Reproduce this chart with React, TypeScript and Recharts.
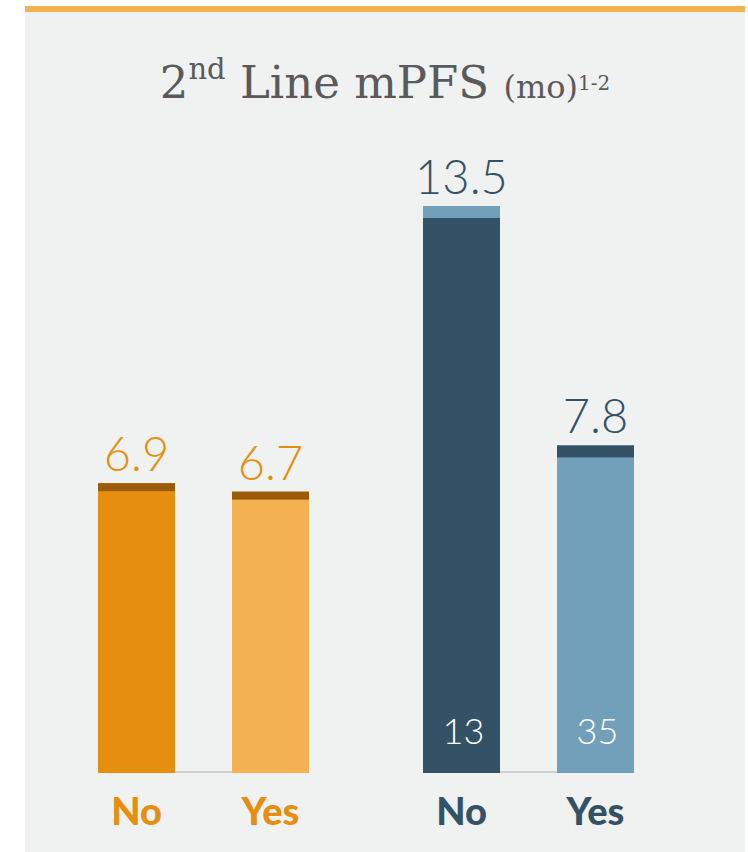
import React from "react";
import { BarChart, Bar, XAxis, YAxis, LabelList } from "recharts";

// Median PFS (months) per group, split by answer
const groups = ["Group 1", "Group 2"];
const answerLabels = ["No", "Yes"];
const noValues = [6.9, 13.5];
const yesValues = [6.7, 7.8];
// patient counts printed inside the bars (none for the first group)
const noCounts: (number | null)[] = [null, 13];
const yesCounts: (number | null)[] = [null, 35];
const valueDomain = [0, 15];

const data = groups.map((group, i) => ({
  group,
  no: noValues[i],
  yes: yesValues[i],
  noN: noCounts[i],
  yesN: yesCounts[i],
}));

const W = 748;
const H = 852;
const BAR_SIZE = 77;
const BAR_GAP = 57;

const palette = {
  page: "#ffffff",
  panel: "#f0f1f1",
  accent: "#f5b24f",
  title: "#5a5a5a",
  baseline: "#cfcfcf",
};

const groupStyles = [
  {
    label: "#e68e0f",
    capHeight: 8,
    no: { fill: "#e68e0f", cap: "#9b5c09" },
    yes: { fill: "#f4b152", cap: "#9b5c09" },
  },
  {
    label: "#345266",
    capHeight: 12,
    no: { fill: "#345266", cap: "#729fba" },
    yes: { fill: "#729fba", cap: "#345266" },
  },
];

type Series = "no" | "yes";

function makeShape(series: Series) {
  return (props: any) => {
    const { x, y, width, height, index } = props;
    const st = groupStyles[index];
    const s = st[series];
    const capH = Math.min(st.capHeight, height);
    return (
      <g>
        {series === "no" && (
          <rect
            x={x}
            y={y + height - 2}
            width={2 * width + BAR_GAP}
            height={2}
            fill={palette.baseline}
          />
        )}
        <rect x={x} y={y} width={width} height={height} fill={s.fill} />
        <rect x={x} y={y} width={width} height={capH} fill={s.cap} />
      </g>
    );
  };
}

function box(p: any) {
  const v = p.viewBox || {};
  return {
    x: p.x ?? v.x,
    y: p.y ?? v.y,
    width: p.width ?? v.width,
    height: p.height ?? v.height,
  };
}

const valueLabel = (props: any) => {
  const { x, y, width } = box(props);
  const { value, index } = props;
  if (value == null) return null;
  return (
    <text
      x={x + width / 2}
      y={y - 12}
      textAnchor="middle"
      fill={groupStyles[index].label}
      fontFamily="Lato"
      fontWeight={300}
      fontSize={47}
    >
      {value}
    </text>
  );
};

const countLabel = (props: any) => {
  const { x, y, width, height } = box(props);
  const { value } = props;
  if (value == null) return null;
  return (
    <text
      x={x + width / 2 + 2}
      y={y + height - 29}
      textAnchor="middle"
      fill="#ffffff"
      fontFamily="Lato"
      fontWeight={300}
      fontSize={36}
    >
      {value}
    </text>
  );
};

const answerLabel = (answerIndex: number) => (props: any) => {
  const { x, y, width, height } = box(props);
  const { index } = props;
  return (
    <text
      x={x + width / 2}
      y={y + height + 52}
      textAnchor="middle"
      fill={groupStyles[index].label}
      fontFamily="Lato"
      fontWeight={900}
      fontSize={38}
    >
      {answerLabels[answerIndex]}
    </text>
  );
};

export default function App() {
  return (
    <div
      style={{
        position: "absolute",
        left: 0,
        top: 0,
        width: W,
        height: H,
        background: palette.page,
        overflow: "hidden",
      }}
    >
      <div
        style={{
          position: "absolute",
          left: 25,
          top: 12,
          width: 720,
          height: H - 12,
          background: palette.panel,
        }}
      />
      <div
        style={{
          position: "absolute",
          left: 25,
          top: 6,
          width: 720,
          height: 6,
          background: palette.accent,
        }}
      />
      <svg
        width={W}
        height={130}
        style={{ position: "absolute", left: 0, top: 0 }}
      >
        <text
          x={385}
          y={98}
          textAnchor="middle"
          fontFamily="DejaVu Serif"
          fill={palette.title}
          style={{ whiteSpace: "pre" }}
        >
          <tspan fontSize={45}>2</tspan>
          <tspan fontSize={29} dy={-19}>nd</tspan>
          <tspan fontSize={45} dy={19}>{" Line mPFS "}</tspan>
          <tspan fontSize={32}>(mo)</tspan>
          <tspan fontSize={20} dy={-8}>1-2</tspan>
        </text>
      </svg>
      <div style={{ position: "absolute", left: 0, top: 0 }}>
        <BarChart
          width={W}
          height={H}
          data={data}
          margin={{ top: 143, bottom: 79, left: 41, right: 57 }}
          barGap={BAR_GAP}
          barSize={BAR_SIZE}
        >
          <XAxis dataKey="group" hide />
          <YAxis hide domain={valueDomain} />
          <Bar dataKey="no" shape={makeShape("no")} isAnimationActive={false}>
            <LabelList dataKey="no" content={valueLabel} />
            <LabelList dataKey="noN" content={countLabel} />
            <LabelList dataKey="no" content={answerLabel(0)} />
          </Bar>
          <Bar dataKey="yes" shape={makeShape("yes")} isAnimationActive={false}>
            <LabelList dataKey="yes" content={valueLabel} />
            <LabelList dataKey="yesN" content={countLabel} />
            <LabelList dataKey="yes" content={answerLabel(1)} />
          </Bar>
        </BarChart>
      </div>
    </div>
  );
}
